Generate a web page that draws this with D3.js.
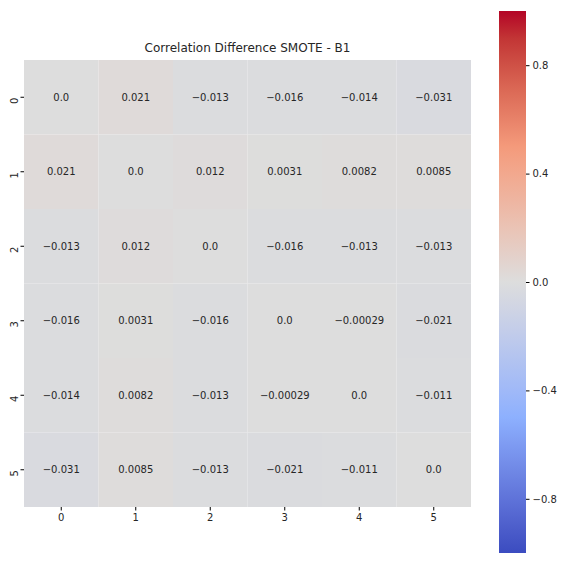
<!DOCTYPE html>
<html><head><meta charset="utf-8">
<script src="https://cdn.jsdelivr.net/npm/d3@7"></script>
<style>body{margin:0;background:#fff}text{font-family:"DejaVu Sans",sans-serif}</style>
</head><body><div id="viz"></div>
<script>
const labels = ["0", "1", "2", "3", "4", "5"]
const values = [
  [0, 0.021, -0.013, -0.016, -0.014, -0.031],
  [0.021, 0, 0.012, 0.0031, 0.0082, 0.0085],
  [-0.013, 0.012, 0, -0.016, -0.013, -0.013],
  [-0.016, 0.0031, -0.016, 0, -0.00029, -0.021],
  [-0.014, 0.0082, -0.013, -0.00029, 0, -0.011],
  [-0.031, 0.0085, -0.013, -0.021, -0.011, 0]
]
const cbTicks = [-0.8, -0.4, 0.0, 0.4, 0.8]

const svg = d3.select("#viz").append("svg").attr("width", 564).attr("height", 565)

// coolwarm-ish
const color = d3.scaleLinear()
  .domain([-1, -0.5, 0, 0.5, 1])
  .range(["#3b4cc0", "#8db0fe", "#dddddd", "#f49a7b", "#b40426"])
  .interpolate(d3.interpolateLab)

const x = d3.scaleBand().domain(labels).range([24, 471])
const y = d3.scaleBand().domain(labels).range([60, 507])

const cells = []
values.forEach((row, i) => row.forEach((v, j) => cells.push({i, j, v})))

svg.selectAll(".cell").data(cells).enter().append("rect")
  .attr("x", d => x(labels[d.j])).attr("y", d => y(labels[d.i]))
  .attr("width", x.bandwidth()).attr("height", y.bandwidth())
  .attr("fill", d => color(d.v))

svg.selectAll(".lbl").data(cells).enter().append("text")
  .attr("x", d => x(labels[d.j]) + x.bandwidth() / 2)
  .attr("y", d => y(labels[d.i]) + y.bandwidth() / 2)
  .attr("text-anchor", "middle").attr("dominant-baseline", "central")
  .attr("font-size", 10).attr("fill", "#262626")
  .text(d => d3.format(".2g")(d.v).replace("-", "-"))

const xa = svg.append("g").attr("transform", "translate(0,507)")
  .call(d3.axisBottom(x).tickSize(3.5))
const ya = svg.append("g").attr("transform", "translate(24,0)")
  .call(d3.axisLeft(y).tickSize(3.5))
;[xa, ya].forEach(a => {
  a.select(".domain").remove()
  a.selectAll("text").attr("font-size", 10).attr("fill", "#262626")
})
ya.selectAll("text").attr("transform", function () {
  return "rotate(-90," + d3.select(this).attr("x") + ",0)"
}).attr("text-anchor", "middle").attr("dy", "0").attr("x", -10)

svg.append("text").attr("x", 247.5).attr("y", 52).attr("text-anchor", "middle")
  .attr("font-size", 12).attr("fill", "#262626").text("Correlation Difference SMOTE - B1")

// colorbar
const cy = d3.scaleLinear().domain([-1, 1]).range([553, 11])
const defs = svg.append("defs")
const grad = defs.append("linearGradient").attr("id", "cb")
  .attr("x1", 0).attr("y1", 1).attr("x2", 0).attr("y2", 0)
d3.range(0, 1.0001, 0.05).forEach(t => {
  grad.append("stop").attr("offset", t).attr("stop-color", color(-1 + 2 * t))
})
svg.append("rect").attr("x", 499).attr("y", 11).attr("width", 27).attr("height", 542)
  .attr("fill", "url(#cb)")
const ca = svg.append("g").attr("transform", "translate(526,0)")
  .call(d3.axisRight(cy).tickValues(cbTicks).tickSize(3.5)
    .tickFormat(d => d === 0 ? "0.0" : d3.format(".1f")(d).replace("-", "\u2212")))
ca.select(".domain").remove()
ca.selectAll("text").attr("font-size", 10).attr("fill", "#262626")
</script></body></html>
